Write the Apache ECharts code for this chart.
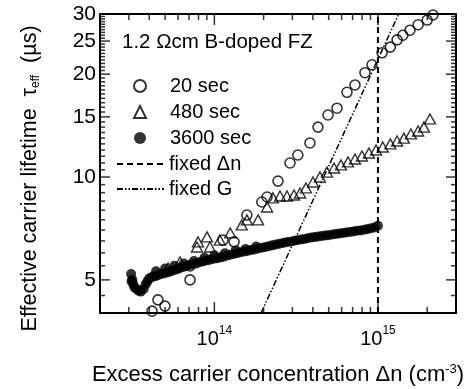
<!DOCTYPE html>
<html>
<head>
<meta charset="utf-8">
<script src="https://cdn.jsdelivr.net/npm/echarts@6.0.0/dist/echarts.min.js"></script>
<style>
html, body { margin: 0; padding: 0; background: #fff; }
#chart { width: 473px; height: 389px; }
</style>
</head>
<body>
<div id="chart"></div>
<script>
// 20 sec (open circles)
const dn20 = [3.77e13, 4.16e13, 4.52e13, 4.99e13, 7.1e13, 7.1e13, 1.13e14, 1.32e14, 1.58e14, 1.95e14,
    2.1e14, 2.45e14, 2.9e14, 3.24e14, 3.84e14, 4.3e14, 4.95e14, 5.62e14, 6.47e14, 7.24e14,
    8.33e14, 9.2e14, 1.06e15, 1.19e15, 1.31e15, 1.42e15, 1.57e15, 1.76e15, 2.0e15, 2.17e15]
const tau20 = [3.97, 4.05, 4.37, 4.19, 5.0, 5.49, 6.54, 6.46, 7.74, 8.45,
    8.74, 9.73, 10.99, 11.6, 12.58, 14.0, 15.19, 15.9, 17.7, 18.6,
    20.2, 21.3, 23.1, 24.0, 25.2, 26.0, 26.9, 27.9, 28.8, 29.8]

// 480 sec (open triangles)
const dn480 = [5.21e13, 6.17e13, 7.83e13, 7.94e13, 9.02e13, 9.4e13, 1.08e14, 1.25e14, 1.47e14, 1.58e14,
    1.85e14, 2.1e14, 2.28e14, 2.52e14, 2.78e14, 3.07e14, 3.34e14, 3.63e14, 4.01e14, 4.42e14,
    4.88e14, 5.39e14, 5.94e14, 6.56e14, 7.24e14, 7.98e14, 8.81e14, 9.73e14, 1.07e15, 1.19e15,
    1.31e15, 1.44e15, 1.59e15, 1.76e15, 1.91e15, 2.08e15]
const tau480 = [5.42, 5.64, 6.24, 6.46, 6.68, 6.24, 6.54, 6.86, 7.24, 7.49,
    7.49, 8.17, 8.69, 8.8, 8.8, 8.86, 8.98, 9.29, 9.67, 10.0,
    10.34, 10.63, 10.85, 11.07, 11.29, 11.52, 11.76, 12.0, 12.24, 12.5,
    12.75, 13.0, 13.37, 13.64, 14.0, 14.79]

// 3600 sec (filled circles)
const dn3600 = [3.1e13, 3.12e13, 3.15e13, 3.2e13, 3.25e13, 3.35e13, 3.45e13, 3.55e13, 3.7e13, 3.8e13, 3.9e13,
    4.0e13, 4.15e13, 4.3e13, 4.5e13, 4.7e13, 4.9e13, 5.1e13, 5.35e13, 5.6e13, 5.85e13,
    6.1e13, 6.4e13, 6.7e13, 7.0e13, 7.3e13, 7.7e13, 8.1e13, 8.5e13, 8.9e13, 9.3e13,
    9.8e13, 1.03e14, 1.08e14, 1.13e14, 1.19e14, 1.25e14, 1.31e14, 1.38e14, 1.45e14, 1.52e14,
    1.6e14, 1.68e14, 1.76e14, 1.85e14, 1.95e14, 2.05e14, 2.15e14, 2.26e14, 2.38e14, 2.5e14,
    2.63e14, 2.76e14, 2.9e14, 3.05e14, 3.2e14, 3.37e14, 3.54e14, 3.72e14, 3.91e14, 4.11e14,
    4.32e14, 4.54e14, 4.77e14, 5.0e14, 5.26e14, 5.53e14, 5.81e14, 6.1e14, 6.41e14, 6.74e14,
    7.08e14, 7.44e14, 7.82e14, 8.22e14, 8.64e14, 9.08e14, 9.54e14, 1.0e15,
    // second, slightly scattered sweep
    4.4e13, 5.0e13, 5.7e13, 6.5e13, 7.5e13, 8.7e13, 1.0e14, 1.16e14, 1.35e14, 1.55e14, 1.8e14]
const tau3600 = [5.2, 4.95, 5.0, 4.85, 4.75, 4.7, 4.65, 4.62, 4.7, 4.85, 4.95,
    5.05, 5.1, 5.12, 5.15, 5.2, 5.22, 5.25, 5.28, 5.33, 5.36,
    5.4, 5.45, 5.48, 5.52, 5.55, 5.58, 5.63, 5.66, 5.7, 5.72,
    5.76, 5.78, 5.81, 5.84, 5.88, 5.92, 5.95, 5.98, 6.02, 6.05,
    6.08, 6.12, 6.14, 6.18, 6.21, 6.24, 6.27, 6.31, 6.35, 6.38,
    6.41, 6.44, 6.47, 6.5, 6.53, 6.56, 6.59, 6.62, 6.65, 6.67,
    6.7, 6.72, 6.74, 6.76, 6.79, 6.81, 6.84, 6.86, 6.88, 6.91,
    6.93, 6.96, 6.98, 7.01, 7.04, 7.08, 7.12, 7.2,
    5.3, 5.4, 5.5, 5.58, 5.68, 5.8, 5.9, 5.98, 6.1, 6.16, 6.26]

// reference lines
const dnFixedDn = [1e15, 1e15]
const tauFixedDn = [4, 30]
const dnFixedG = [1.93e14, 1.34e15]
const tauFixedG = [4, 30]

// ticks
const xMajorTicks = [1e14, 1e15]
const xMinorTicks = [3e13, 4e13, 5e13, 6e13, 7e13, 8e13, 9e13,
    2e14, 3e14, 4e14, 5e14, 6e14, 7e14, 8e14, 9e14, 2e15]
const yMajorTicks = [5, 10, 15, 20, 25, 30]
const yMinorTicks = [4.5, 5.5, 6, 6.5, 7, 7.5, 8, 8.5, 9, 9.5,
    10.5, 11, 11.5, 12, 12.5, 13, 13.5, 14, 14.5,
    15.5, 16, 16.5, 17, 17.5, 18, 18.5, 19, 19.5,
    20.5, 21, 21.5, 22, 22.5, 23, 23.5, 24, 24.5,
    25.5, 26, 26.5, 27, 27.5, 28, 28.5, 29, 29.5]

const lg = Math.log10
const pts = (xs, ys) => xs.map((x, i) => [lg(x), lg(ys[i])])

const font = '"Liberation Sans", Arial, sans-serif'
const black = '#000'
const xMin = lg(2e13), xMax = lg(3e15)
const yMin = lg(4), yMax = lg(30)

// inward tick marks as thin rect symbols sitting on the frame
// dir: 1 = bottom, -1 = top (x ticks); 1 = left, -1 = right (y ticks)
const xTickItems = (yPos, dir) => [].concat(
    xMajorTicks.map(v => ({ value: [lg(v), yPos], symbolSize: [1.5, 11], symbolOffset: [0, -dir * 5.5] })),
    xMinorTicks.map(v => ({ value: [lg(v), yPos], symbolSize: [1.5, 6], symbolOffset: [0, -dir * 3] }))
)
const yTickItems = (xPos, dir) => [].concat(
    yMajorTicks.map(v => ({ value: [xPos, lg(v)], symbolSize: [10, 1.5], symbolOffset: [dir * 5, 0] })),
    yMinorTicks.map(v => ({ value: [xPos, lg(v)], symbolSize: [5, 1.5], symbolOffset: [dir * 2.5, 0] }))
)
const tickSeries = (data) => ({
    type: 'scatter',
    symbol: 'rect',
    silent: true,
    clip: false,
    z: 4,
    itemStyle: { color: black },
    data: data
})

const chart = echarts.init(document.getElementById('chart'))

const frameAxis = {
    type: 'value',
    splitLine: { show: false },
    axisLine: { onZero: false, lineStyle: { color: black, width: 2 } },
    axisTick: { show: false }
}

const option = {
    animation: false,
    backgroundColor: '#fff',
    textStyle: { fontFamily: font },
    grid: { left: 100, right: 17, top: 14, bottom: 76, outerBoundsMode: 'none' },
    title: {
        text: '1.2 Ωcm B-doped FZ',
        left: 122, top: 32, padding: 0,
        textStyle: { fontFamily: font, fontSize: 20.5, fontWeight: 'normal', color: black }
    },
    legend: [
        {
            orient: 'vertical',
            left: 128, top: 71,
            itemWidth: 12, itemHeight: 12, itemGap: 6,
            data: ['20 sec', '480 sec', '3600 sec'],
            textStyle: { fontFamily: font, fontSize: 20, lineHeight: 20, color: black, padding: [0, 0, 0, 19] }
        },
        {
            orient: 'vertical',
            left: 111, top: 149,
            itemWidth: 47, itemHeight: 12, itemGap: 5,
            itemStyle: { opacity: 0 },
            data: ['fixed Δn', 'fixed G'],
            textStyle: { fontFamily: font, fontSize: 20, lineHeight: 20, color: black }
        }
    ],
    xAxis: [
        Object.assign({}, frameAxis, {
            position: 'bottom', min: xMin, max: xMax,
            axisLabel: {
                customValues: xMajorTicks.map(lg),
                margin: 12,
                formatter: v => '{b|10}{s|' + Math.round(v) + '}',
                rich: {
                    b: { fontFamily: font, fontSize: 20, lineHeight: 24, color: black, verticalAlign: 'bottom' },
                    s: { fontFamily: font, fontSize: 12, lineHeight: 24, color: black, verticalAlign: 'top' }
                }
            },
            name: 'Excess carrier concentration Δn (cm{s|-3})',
            nameLocation: 'middle',
            nameGap: 50,
            nameTextStyle: {
                fontFamily: font, fontSize: 22, color: black, lineHeight: 24, verticalAlign: 'top',
                rich: { s: { fontFamily: font, fontSize: 13, lineHeight: 24, color: black, verticalAlign: 'top' } }
            }
        }),
        Object.assign({}, frameAxis, {
            position: 'top', min: xMin, max: xMax, axisLabel: { show: false }
        })
    ],
    yAxis: [
        Object.assign({}, frameAxis, {
            position: 'left', min: yMin, max: yMax,
            axisLabel: {
                customValues: yMajorTicks.map(lg),
                margin: 4,
                formatter: v => String(Math.round(Math.pow(10, v))),
                fontFamily: font, fontSize: 21, color: black
            },
            name: 'Effective carrier lifetime  τ{s|eff}  (µs)\u00a0\u00a0\u00a0\u00a0\u00a0',
            nameLocation: 'middle',
            nameGap: 58,
            nameTextStyle: {
                fontFamily: font, fontSize: 21.5, color: black, lineHeight: 24,
                rich: { s: { fontFamily: font, fontSize: 12, lineHeight: 24, color: black, verticalAlign: 'bottom' } }
            }
        }),
        Object.assign({}, frameAxis, {
            position: 'right', min: yMin, max: yMax, axisLabel: { show: false }
        })
    ],
    series: [
        {
            name: '20 sec',
            type: 'scatter',
            symbol: 'circle',
            symbolSize: 10,
            itemStyle: { color: 'rgba(0,0,0,0)', borderColor: black, borderWidth: 1.6 },
            data: pts(dn20, tau20)
        },
        {
            name: '480 sec',
            type: 'scatter',
            symbol: 'triangle',
            symbolSize: [11, 10],
            itemStyle: { color: 'rgba(0,0,0,0)', borderColor: black, borderWidth: 1.4 },
            data: pts(dn480, tau480)
        },
        {
            name: '3600 sec',
            type: 'scatter',
            symbol: 'circle',
            symbolSize: 10,
            itemStyle: { color: black, borderColor: black, borderWidth: 0 },
            data: pts(dn3600, tau3600)
        },
        {
            name: 'fixed Δn',
            type: 'line',
            symbol: 'none',
            itemStyle: { color: black },
            lineStyle: { color: black, width: 2, type: [6, 4] },
            data: pts(dnFixedDn, tauFixedDn)
        },
        {
            name: 'fixed G',
            type: 'line',
            symbol: 'none',
            itemStyle: { color: black },
            lineStyle: { color: black, width: 1.5, type: [6, 2, 1.5, 2, 1.5, 2] },
            data: pts(dnFixedG, tauFixedG)
        },
        tickSeries(xTickItems(yMin, 1)),
        tickSeries(xTickItems(yMax, -1)),
        tickSeries(yTickItems(xMin, 1)),
        tickSeries(yTickItems(xMax, -1))
    ]
}

chart.setOption(option)
</script>
</body>
</html>
